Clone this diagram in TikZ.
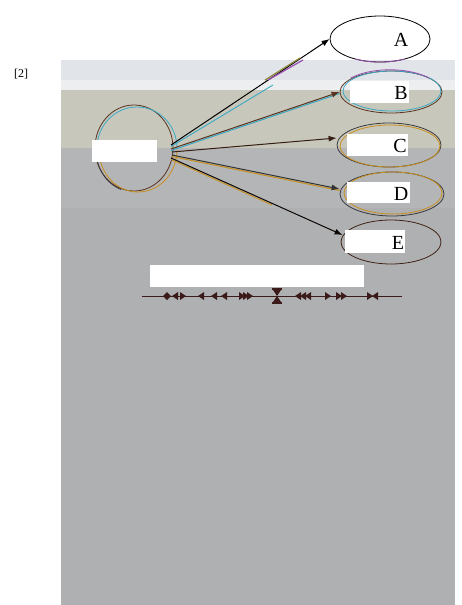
\documentclass[tikz,border=0pt]{standalone}
\usepackage{fontspec}
\setmainfont{Liberation Serif}
\usetikzlibrary{shapes.geometric,arrows.meta}
\definecolor{bandA}{HTML}{E1E4E9}
\definecolor{bandB}{HTML}{ECEEF0}
\definecolor{beige}{HTML}{C8C7BC}
\definecolor{grayA}{HTML}{B4B5B7}
\definecolor{grayB}{HTML}{AFB0B2}
\definecolor{lnbrown}{HTML}{5A3420}
\definecolor{lncyan}{HTML}{3AA9C4}
\definecolor{lnorange}{HTML}{C8901E}
\definecolor{lnpurple}{HTML}{9A4FB0}
\definecolor{lnolive}{HTML}{8A8A3A}
\definecolor{lndark}{HTML}{3A3A3E}
\definecolor{tipcol}{HTML}{3B1A1A}
\tikzset{
  ell/.style={draw, ellipse, inner sep=0pt, line width=0.8pt},
  redact/.style={fill=white, inner sep=0pt},
  lab/.style={font=\fontsize{20}{20}\selectfont, inner sep=0pt},
  conn/.style={-{Latex[length=8pt,width=6pt]}, line width=1pt},
}
\newcommand{\rtri}[1]{\fill[tipcol] (#1,296) -- (#1-6,292) -- (#1-6,300) -- cycle;}
\newcommand{\ltri}[1]{\fill[tipcol] (#1,296) -- (#1+6,292) -- (#1+6,300) -- cycle;}
\begin{document}
\begin{tikzpicture}[x=1pt,y=-1pt]
\useasboundingbox (0,0) rectangle (461,605);
\fill[white] (0,0) rectangle (461,605);
\fill[bandA] (61,60) rectangle (455,80);
\fill[bandB] (61,80) rectangle (455,90);
\fill[beige] (61,90) rectangle (455,148);
\fill[grayA] (61,148) rectangle (455,208);
\fill[grayB] (61,208) rectangle (455,605);

\node[font=\fontsize{12}{12}\selectfont, inner sep=0pt] (ref) at (21,74) {[2]};

% source ellipse
\node[ell, draw=lnbrown, minimum width=78pt, minimum height=86pt] (src) at (134,148) {};
\draw[lncyan, line width=0.8pt] (177,148) arc (0:-180:40 and 41);
\draw[lnorange, line width=0.8pt] (177,150) arc (0:180:39 and 42);
\draw[lndark, line width=0.8pt] (96,150) arc (180:110:38 and 42);
\node[redact, minimum width=65pt, minimum height=22pt] (srcbox) at (124.5,151) {};

% target ellipses
\node[ell, draw=black, minimum width=100pt, minimum height=46pt] (A) at (380,39) {};
\draw[lnpurple, line width=0.8pt] (405,59) arc (60:120:50 and 23);
\node[ell, draw=lnbrown, minimum width=102pt, minimum height=42pt] (B) at (391,92) {};
\draw[lncyan, line width=0.8pt] (392,91) ellipse (49 and 20);
\draw[lnpurple, line width=0.8pt] (429,78) arc (-40:-140:51 and 23);
\node[ell, draw=lndark, minimum width=104pt, minimum height=44pt] (C) at (389,145) {};
\draw[lnorange, line width=0.8pt] (390,146) ellipse (50 and 21);
\node[ell, draw=lndark, minimum width=104pt, minimum height=44pt] (D) at (392,194) {};
\draw[lnorange, line width=0.8pt] (393,193) ellipse (49 and 21);
\node[ell, draw=lnbrown!70!black, minimum width=100pt, minimum height=44pt] (E) at (391,242) {};

\node[redact, minimum width=59pt, minimum height=22pt] (Bbox) at (379.5,92) {};
\node[redact, minimum width=61pt, minimum height=22pt] (Cbox) at (377.5,145) {};
\node[redact, minimum width=63pt, minimum height=21pt] (Dbox) at (378.5,192.5) {};
\node[redact, minimum width=60pt, minimum height=23pt] (Ebox) at (375,241.5) {};

\node[lab] (la) at (401,40) {A};
\node[lab] (lb) at (401,93) {B};
\node[lab] (lc) at (400,146) {C};
\node[lab] (ld) at (401,194) {D};
\node[lab] (le) at (398,243) {E};

% fan origins
\coordinate (o1) at (171,145);
\coordinate (o2) at (171,149);
\coordinate (o3) at (172,152);
\coordinate (o4) at (172,155);
\coordinate (o5) at (171,158);
\coordinate (cyA) at (273,85);
\coordinate (orE) at (272,205);

% connectors (with offset coloured doubles)
\draw[lncyan, line width=0.9pt] ([yshift=-1.5pt]o1) -- (cyA);
\draw[conn, black] (o1) -- (A.west);
\draw[lnolive, line width=1.2pt] (265,80) -- (300,58);
\draw[lnpurple, line width=1.2pt] (268,80) -- (303,60);
\draw[lncyan, line width=1pt] ([yshift=-1.5pt]o2) -- ([yshift=-1.5pt]B.west);
\draw[conn, lnbrown] (o2) -- (B.west);
\draw[conn, lnbrown!60!black] (o3) -- ([yshift=7pt]C.west);
\draw[lnorange, line width=1pt] ([yshift=-1.5pt]o4) -- ([yshift=3.5pt]D.west);
\draw[conn, black!80] (o4) -- ([yshift=5pt]D.west);
\draw[lnorange, line width=0.9pt] ([yshift=-1.5pt]o5) -- (orE);
\draw[conn, black!85!lnbrown] (o5) -- ([xshift=2pt,yshift=7pt]E.west);

% lower white box
\node[redact, minimum width=214pt, minimum height=22pt] (midbox) at (257,276) {};

% arrow-tip line
\coordinate (ls) at (142,296);
\coordinate (le) at (402,296);
\draw[tipcol, line width=0.8pt] (ls) -- (le);
\fill[tipcol] (163,296) -- (167,292) -- (171,296) -- (167,300) -- cycle;
\ltri{172} \rtri{186}
\ltri{198}
\ltri{211} \ltri{221}
\rtri{245} \rtri{249} \rtri{253}
\fill[tipcol] (272,288) rectangle (282,290);
\fill[tipcol] (272,302) rectangle (282,304);
\fill[tipcol] (273,290) -- (281,290) -- (277,296) -- cycle;
\fill[tipcol] (273,302) -- (281,302) -- (277,296) -- cycle;
\ltri{295} \ltri{300} \ltri{305}
\rtri{331}
\rtri{342} \rtri{347}
\rtri{373} \ltri{372}
\end{tikzpicture}
\end{document}
